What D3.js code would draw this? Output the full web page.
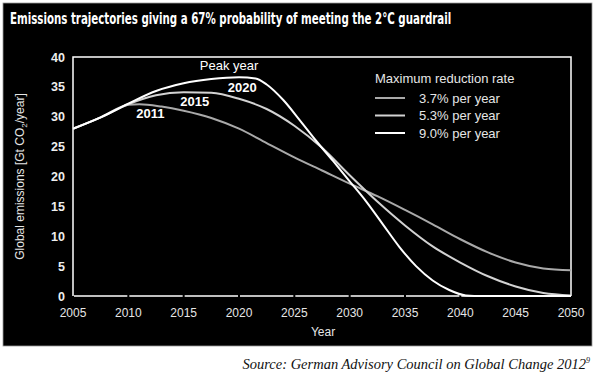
<!DOCTYPE html>
<html>
<head>
<meta charset="utf-8">
<script src="https://cdn.jsdelivr.net/npm/d3@7/dist/d3.min.js"></script>
<style>
  html, body { margin: 0; padding: 0; background: #fff; }
  svg { display: block; }
</style>
</head>
<body>
<div id="chart"></div>
<script>
// 2°C 排放轨迹：三条最大减排率曲线
const years37 = [2005, 2007.5, 2010, 2011, 2013, 2015, 2017.5, 2020, 2022.5, 2025, 2027.5, 2030, 2032.5, 2035, 2037.5, 2040, 2042.5, 2045, 2047.5, 2050];
const vals37  = [28, 29.9, 32.0, 32.1, 31.7, 31.0, 29.8, 28.0, 25.6, 23.2, 21.0, 18.8, 16.7, 14.4, 12.0, 9.5, 7.3, 5.6, 4.6, 4.3];

const years53 = [2005, 2007.5, 2010, 2012.5, 2015, 2017.5, 2020, 2022.5, 2025, 2027.5, 2030, 2032.5, 2035, 2037.5, 2040, 2042.5, 2045, 2047.5, 2050];
const vals53  = [28, 29.9, 32.1, 33.6, 34.1, 34.0, 33.0, 31.3, 28.5, 24.8, 20.2, 15.8, 11.8, 8.3, 5.6, 3.3, 1.6, 0.5, 0.1];

const years90 = [2005, 2007.5, 2010, 2012.5, 2015, 2017.5, 2020, 2021.5, 2022.5, 2024, 2025.5, 2027, 2028.5, 2030, 2031.5, 2033, 2034.5, 2036, 2037.5, 2039, 2040.5, 2042, 2050];
const vals90  = [28, 29.9, 32.2, 34.3, 35.6, 36.3, 36.6, 36.4, 35.4, 32.8, 29.4, 25.9, 22.6, 19.2, 15.8, 12.0, 8.2, 5.0, 2.6, 1.0, 0.1, 0, 0];

const seriesNames = ["3.7% per year", "5.3% per year", "9.0% per year"];
const peakLabels = [
  { text: "2011", year: 2012.0, value: 29.8 },
  { text: "2015", year: 2016.0, value: 31.8 },
  { text: "2020", year: 2020.3, value: 34.1 },
];
const xTicks = d3.range(2005, 2051, 5);
const yTicks = d3.range(0, 41, 5);

const W = 600, H = 380;
const svg = d3.select("#chart").append("svg").attr("width", W).attr("height", H);

svg.append("rect").attr("x", 3).attr("y", 3).attr("width", 589).attr("height", 343)
  .attr("fill", "#000").attr("stroke", "#9a9a9a").attr("stroke-width", 0.8);

const x = d3.scaleLinear().domain([2005, 2050]).range([73, 571]);
const y = d3.scaleLinear().domain([0, 40]).range([296, 57]);

const SANS = "'Liberation Sans', Arial, Helvetica, sans-serif";

// 标题（原图为窄体粗字：按实测宽度横向压缩到原宽）
const title = svg.append("text").attr("x", 0).attr("y", 0)
  .attr("style", `font: bold 16px 'DejaVu Sans Condensed', ${SANS}; fill:#fff`)
  .text("Emissions trajectories giving a 67% probability of meeting the 2°C guardrail");
const tw = title.node().getComputedTextLength();
title.attr("transform", `translate(10,24) scale(${442 / tw},1)`);

// 框线
const frame = svg.append("g").attr("stroke", "#fff").attr("stroke-width", 1.5).attr("fill", "none");
frame.append("path").attr("d", `M${x(2005)},${y(0)}V${y(40)}H${x(2050)}V${y(0)}`);
// 底轴：刻度处留小缺口
xTicks.slice(0, -1).forEach(t => {
  frame.append("line").attr("x1", x(t) + 1).attr("x2", x(t + 5) - 1)
    .attr("y1", y(0)).attr("y2", y(0));
});

// 刻度标签
svg.append("g").selectAll("text").data(yTicks).join("text")
  .attr("x", 65).attr("y", d => y(d) + 4.5).attr("text-anchor", "end")
  .attr("style", `font: bold 12.5px ${SANS}; fill:#eee`).text(d => d);
svg.append("g").selectAll("text").data(xTicks).join("text")
  .attr("x", d => x(d)).attr("y", 317).attr("text-anchor", "middle")
  .attr("style", `font: 12px ${SANS}; fill:#e6e6e6`).text(d => d);

svg.append("text").attr("x", x(2027.5) + 1).attr("y", 336).attr("text-anchor", "middle")
  .attr("style", `font: 12px ${SANS}; fill:#e6e6e6`).text("Year");

const yt = svg.append("text").attr("transform", `translate(24,${(y(0) + y(40)) / 2}) rotate(-90)`)
  .attr("text-anchor", "middle").attr("style", `font: 12px ${SANS}; fill:#e6e6e6`);
yt.append("tspan").text("Global emissions [Gt CO");
yt.append("tspan").attr("dy", 3).attr("font-size", 8).text("2");
yt.append("tspan").attr("dy", -3).text("/year]");

// 曲线
const colors = ["#a9a9a9", "#d2d2d2", "#ffffff"];
const data = [
  years37.map((yr, i) => [yr, vals37[i]]),
  years53.map((yr, i) => [yr, vals53[i]]),
  years90.map((yr, i) => [yr, vals90[i]]),
];
const line = d3.line().x(d => x(d[0])).y(d => y(d[1])).curve(d3.curveMonotoneX);
data.forEach((pts, i) => {
  svg.append("path").attr("d", line(pts)).attr("fill", "none")
    .attr("stroke", colors[i]).attr("stroke-width", 2);
});

// 峰值年份标注
svg.append("text").attr("x", x(2019.1)).attr("y", 70).attr("text-anchor", "middle")
  .attr("style", `font: 13px ${SANS}; fill:#fff`).text("Peak year");
svg.append("g").selectAll("text").data(peakLabels).join("text")
  .attr("x", d => x(d.year)).attr("y", d => y(d.value)).attr("text-anchor", "middle")
  .attr("style", `font: bold 13px ${SANS}; fill:#fff`).text(d => d.text);

// 图例
const lg = svg.append("g").attr("transform", "translate(375,83)");
lg.append("text").attr("x", 0).attr("y", 0)
  .attr("style", `font: 13px ${SANS}; fill:#e6e6e6`).text("Maximum reduction rate");
seriesNames.forEach((n, i) => {
  const yy = 15 + i * 17.5;
  lg.append("line").attr("x1", 0).attr("x2", 30).attr("y1", yy).attr("y2", yy)
    .attr("stroke", colors[i]).attr("stroke-width", 2);
  lg.append("text").attr("x", 44).attr("y", yy + 4.5)
    .attr("style", `font: 13px ${SANS}; fill:#e6e6e6`).text(n);
});

// 来源
const src = svg.append("text").attr("x", 590).attr("y", 369).attr("text-anchor", "end")
  .attr("style", "font: italic 14.5px 'Liberation Serif', 'DejaVu Serif', serif; fill:#111");
src.append("tspan").text("Source: German Advisory Council on Global Change 2012");
src.append("tspan").attr("dy", -6).attr("font-size", 8).text("9");
</script>
</body>
</html>
